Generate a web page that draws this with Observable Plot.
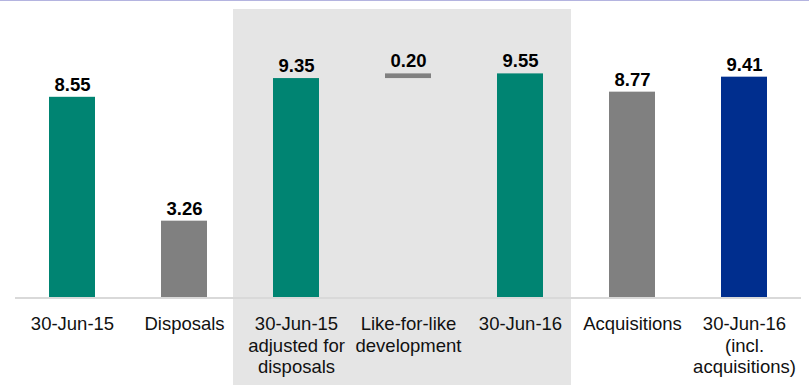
<!DOCTYPE html>
<html>
<head>
<meta charset="utf-8">
<script src="https://cdn.jsdelivr.net/npm/d3@7"></script>
<script src="https://cdn.jsdelivr.net/npm/@observablehq/plot@0.6"></script>
<style>
  html, body { margin: 0; padding: 0; background: #fff; }
  #chart { width: 809px; border-top: 1px solid #b4b4e0; }
  svg { display: block; }
</style>
</head>
<body>
<div id="chart"></div>
<script>
// Data
const categories = [
  "30-Jun-15",
  "Disposals",
  "30-Jun-15\nadjusted for\ndisposals",
  "Like-for-like\ndevelopment",
  "30-Jun-16",
  "Acquisitions",
  "30-Jun-16\n(incl.\nacquisitions)"
];
const values = [8.55, 3.26, 9.35, 0.20, 9.55, 8.77, 9.41];
const bases  = [0, 0, 0, 9.35, 0, 0, 0];
const kinds  = ["total", "change", "total", "change", "total", "change", "final"];
const shadedCategories = [categories[2], categories[3], categories[4]];
const yMax = 12.3;

const rows = categories.map((c, i) => ({
  category: c,
  value: values[i],
  base: bases[i],
  top: bases[i] + values[i],
  kind: kinds[i]
}));

const font = "'Liberation Sans', Arial, sans-serif";

const chart = Plot.plot({
  width: 809,
  height: 384,
  marginTop: 8,
  marginBottom: 88,
  marginLeft: 15,
  marginRight: 8,
  style: { fontFamily: font, background: "transparent" },
  x: { domain: categories, paddingInner: 0.59, paddingOuter: 0.295, label: null },
  y: { domain: [0, yMax], axis: null },
  color: {
    domain: ["total", "change", "final"],
    range: ["#008472", "#808080", "#002E8E"]
  },
  marks: [
    Plot.barY(shadedCategories, {
      x: d => d, y1: 0, y2: yMax,
      fill: "#e5e5e5",
      insetLeft: -34, insetRight: -34, insetBottom: -90,
      dx: -6
    }),
    Plot.barY(rows, {
      x: "category", y1: "base", y2: "top", fill: "kind"
    }),
    Plot.ruleY([0], { stroke: "#d9d9d9", strokeWidth: 2, dy: 0.5 }),
    Plot.text(rows, {
      x: "category", y: "top", text: d => d.value.toFixed(2),
      dy: -6.5, lineAnchor: "bottom",
      fontSize: 18.5, fontWeight: "bold", fill: "#000"
    }),
    Plot.axisX({
      tickSize: 0, tickPadding: 17, fontSize: 18.5, lineHeight: 1.17,
      fill: "#111", label: null
    })
  ]
});
document.getElementById("chart").appendChild(chart);
</script>
</body>
</html>
